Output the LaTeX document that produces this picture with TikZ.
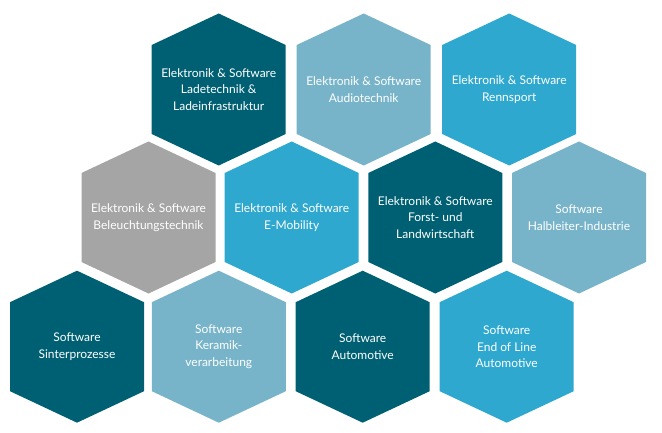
\documentclass[tikz,border=0pt]{standalone}
\usepackage{fontspec}
\setmainfont{Lato}
\definecolor{hdark}{RGB}{0,96,115}
\definecolor{hlight}{RGB}{120,180,201}
\definecolor{hmid}{RGB}{46,168,206}
\definecolor{hgray}{RGB}{165,165,165}
\tikzset{
  hextext/.style={text=white, align=center, font=\fontsize{12}{16.5}\selectfont, inner sep=0pt},
}
\newcommand{\hexcell}[5]{%
  \fill[#4] (#2,#3) ++(0,76) -- ++(67,-31.5) -- ++(0,-89) -- ++(-67,-31.5) -- ++(-67,31.5) -- ++(0,89) -- cycle;
  \node[hextext] (#1) at (#2,#3) {#5};
}
\begin{document}
\begin{tikzpicture}[x=1pt,y=1pt]
\useasboundingbox (0,0) rectangle (662,432);
% row 1
\hexcell{a1}{218.7}{342.5}{hdark}{Elektronik \& Software\\Ladetechnik \&\\Ladeinfrastruktur}
\hexcell{a2}{363.7}{342.5}{hlight}{Elektronik \& Software\\Audiotechnik}
\hexcell{a3}{509.2}{342.5}{hmid}{Elektronik \& Software\\Rennsport}
% row 2
\hexcell{b1}{148.5}{214.5}{hgray}{Elektronik \& Software\\Beleuchtungstechnik}
\hexcell{b2}{291.7}{214.5}{hmid}{Elektronik \& Software\\E-Mobility}
\hexcell{b3}{435.3}{214.5}{hdark}{Elektronik \& Software\\Forst- und\\Landwirtschaft}
\hexcell{b4}{579}{214.5}{hlight}{Software\\Halbleiter-Industrie}
% row 3
\hexcell{c1}{77}{85.3}{hdark}{Software\\Sinterprozesse}
\hexcell{c2}{218.8}{85.3}{hlight}{Software\\Keramik-\\verarbeitung}
\hexcell{c3}{362.7}{85.3}{hdark}{Software\\Automotive}
\hexcell{c4}{506.7}{85.3}{hmid}{Software\\End of Line\\Automotive}
\end{tikzpicture}
\end{document}
